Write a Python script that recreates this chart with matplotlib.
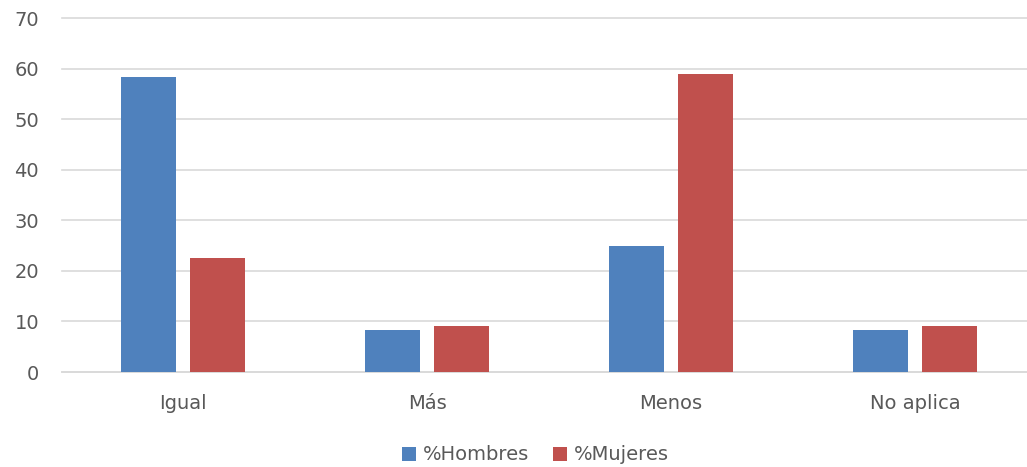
import numpy as np
import matplotlib.pyplot as plt

categories = ['Igual', 'Más', 'Menos', 'No aplica']
hombres = [58.3, 8.3, 25.0, 8.3]
mujeres = [22.6, 9.1, 59.0, 9.1]

blue = '#4F81BD'
red = '#C0504D'
grey = '#595959'

plt.rcParams['font.family'] = ['DejaVu Sans']

fig = plt.figure(figsize=(10.27, 4.67), dpi=100)
ax = fig.add_axes([62 / 1027, 1 - 372 / 467, 965 / 1027, 354 / 467])

x = np.arange(len(categories))
w = 0.225
off = 0.142
ax.bar(x - off, hombres, w, color=blue, label='%Hombres', zorder=3)
ax.bar(x + off, mujeres, w, color=red, label='%Mujeres', zorder=3)

ax.set_xlim(-0.496, 3.459)
ax.set_ylim(0, 70)
ax.set_yticks(range(0, 71, 10))
ax.set_xticks(x)
ax.set_xticklabels(categories)
ax.grid(axis='y', color='#D9D9D9', linewidth=1.2, zorder=0)
for line in ax.get_ygridlines():
    line.set_clip_on(False)
for s in ['top', 'right', 'left']:
    ax.spines[s].set_visible(False)
ax.spines['bottom'].set_color('#D9D9D9')
ax.spines['bottom'].set_linewidth(1.2)
ax.tick_params(axis='both', length=0, colors=grey, labelsize=14)
ax.tick_params(axis='x', pad=16)
ax.tick_params(axis='y', pad=16.5)

fig.legend(loc='center', bbox_to_anchor=(535.5 / 1027, 1 - 455 / 467), ncol=2, frameon=False,
           fontsize=14, labelcolor=grey, handlelength=0.72, handleheight=0.72,
           handletextpad=0.35, columnspacing=1.2)

fig.savefig('out.png', dpi=100)
